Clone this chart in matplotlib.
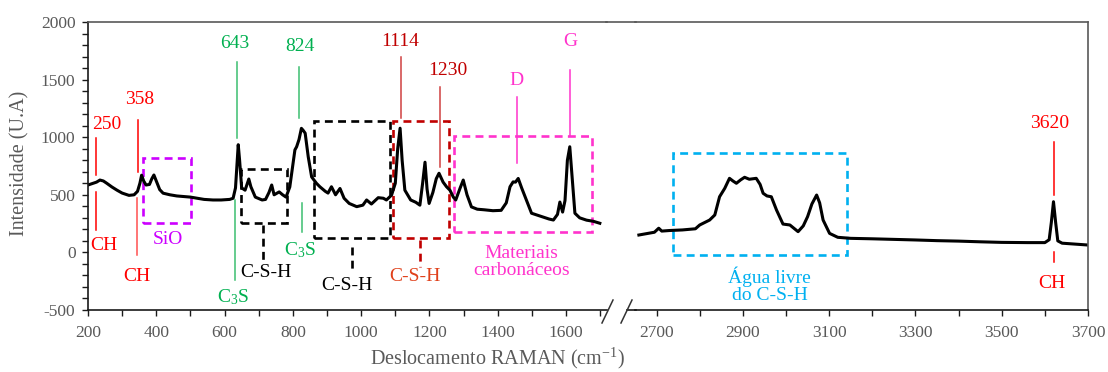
import matplotlib
matplotlib.use("Agg")
import matplotlib.pyplot as plt
from matplotlib.patches import Rectangle
from matplotlib.lines import Line2D

plt.rcParams['font.family'] = ['Liberation Serif', 'DejaVu Serif']
plt.rcParams['axes.unicode_minus'] = False
plt.rcParams['mathtext.fontset'] = 'custom'
plt.rcParams['mathtext.rm'] = 'Liberation Serif'
plt.rcParams['mathtext.it'] = 'Liberation Serif'
plt.rcParams['mathtext.default'] = 'rm'

# ---------------- data ----------------
left_x = [200, 210, 225, 235, 245, 255, 270, 285, 300, 320, 335, 345, 352, 357, 363, 370, 380, 387, 393, 400,
          410, 420, 440, 460, 480, 500, 520, 540, 566, 590, 615, 625, 632, 637, 640, 644, 650, 660, 667, 671,
          677, 690, 710, 720, 730, 738, 745, 760, 770, 780, 791, 800, 806, 811, 818, 825, 830, 836, 845, 855,
          869, 879, 895, 903, 913, 925, 938, 950, 965, 987, 1005, 1016, 1030, 1050, 1065, 1074, 1089, 1100, 1107, 1114,
          1120, 1128, 1145, 1160, 1172, 1180, 1187, 1193, 1199, 1210, 1220, 1228, 1240, 1250, 1260, 1270, 1277, 1290, 1299, 1310,
          1323, 1340, 1360, 1386, 1410, 1425, 1436, 1445, 1452, 1460, 1470, 1484, 1499, 1514, 1530, 1550, 1563, 1575, 1582, 1590,
          1597, 1604, 1611, 1618, 1626, 1640, 1660, 1680, 1699]
left_y = [585, 595, 610, 628, 620, 600, 568, 540, 515, 495, 500, 530, 600, 670, 620, 585, 590, 640, 672, 620,
          545, 514, 500, 490, 485, 480, 470, 460, 455, 455, 460, 470, 560, 800, 935, 800, 560, 540, 600, 637,
          570, 480, 455, 460, 520, 585, 500, 525, 500, 480, 568, 760, 890, 917, 980, 1077, 1060, 1035, 830, 655,
          600, 570, 530, 515, 570, 500, 555, 470, 425, 397, 410, 455, 420, 475, 470, 455, 497, 600, 900, 1078,
          800, 540, 455, 435, 410, 600, 783, 550, 425, 520, 640, 687, 610, 570, 540, 480, 455, 560, 628, 500,
          395, 375, 370, 362, 365, 430, 570, 612, 610, 642, 560, 455, 340, 325, 310, 290, 281, 330, 437, 350,
          450, 800, 917, 650, 340, 300, 280, 270, 253]

right_x = [2659, 2680, 2695, 2705, 2712, 2730, 2760, 2790, 2800, 2823, 2835, 2846, 2858, 2869, 2877, 2885, 2895, 2904, 2915, 2931,
           2940, 2947, 2956, 2966, 2978, 2993, 3009, 3028, 3040, 3050, 3060, 3071, 3078, 3086, 3101, 3120, 3150, 3200, 3250, 3300,
           3350, 3400, 3450, 3500, 3560, 3600, 3610, 3615, 3620, 3625, 3630, 3640, 3670, 3700]
right_y = [151, 165, 175, 210, 185, 190, 195, 205, 238, 281, 325, 483, 556, 643, 620, 600, 630, 652, 635, 643,
           590, 513, 490, 483, 368, 246, 238, 180, 230, 310, 420, 498, 430, 281, 165, 131, 122, 118, 113, 108,
           102, 98, 92, 87, 85, 85, 110, 260, 440, 260, 100, 80, 72, 64]

left_ticks = list(range(200, 1701, 100))
left_labels = [str(t) if t % 200 == 0 else '' for t in left_ticks]
right_ticks = list(range(2700, 3701, 100))
right_labels = [str(t) if (t - 2700) % 200 == 0 else '' for t in right_ticks]
y_ticks = [-500, 0, 500, 1000, 1500, 2000]

# ---------------- layout ----------------
W, H = 1108, 372
def fx(px):
    return px / W
def fy(py):
    return 1 - py / H

fig = plt.figure(figsize=(W / 100, H / 100), dpi=100)
y0, y1 = 22, 310
ax1 = fig.add_axes([fx(88), fy(y1), fx(607) - fx(88), fy(y0) - fy(y1)])
ax2 = fig.add_axes([fx(635), fy(y1), fx(1088) - fx(635), fy(y0) - fy(y1)])

grey = '#595959'
dark = '#1a1a1a'
for ax in (ax1, ax2):
    ax.set_ylim(-500, 2000)
    for name, s in ax.spines.items():
        s.set_color(dark if name in ('left', 'bottom') else grey)
        s.set_linewidth(1.2)
    ax.tick_params(axis='both', direction='out', length=4, width=1, color=dark,
                   labelcolor=grey, labelsize=12.5)
    ax.tick_params(axis='y', which='minor', direction='out', length=4, width=1, color=dark)

ax1.set_xlim(200, 1720)
ax2.set_xlim(2650, 3700)
ax1.spines['right'].set_visible(False)
ax2.spines['left'].set_visible(False)
ax2.tick_params(axis='y', which='both', left=False, labelleft=False)
ax1.set_xticks(left_ticks)
ax1.set_xticklabels(left_labels)
ax2.set_xticks(right_ticks)
ax2.set_xticklabels(right_labels)
ax1.set_yticks(y_ticks)
ax1.set_yticks(list(range(-500, 2001, 100)), minor=True)
ax1.tick_params(axis='x', pad=7)
ax2.tick_params(axis='x', pad=7)
ax1.tick_params(axis='y', pad=5)

ax1.plot(left_x, left_y, color='black', lw=2.2, solid_joinstyle='round')
ax2.plot(right_x, right_y, color='black', lw=2.2, solid_joinstyle='round')

# connecting top spine and bottom break
fig.add_artist(Line2D([fx(606), fx(636)], [fy(y0), fy(y0)], color=grey, lw=1.2))
fig.add_artist(Line2D([fx(627), fx(636)], [fy(y1), fy(y1)], color=dark, lw=1.2))
fig.add_artist(Line2D([fx(602), fx(613)], [fy(323), fy(300)], color='#333333', lw=1.1))
fig.add_artist(Line2D([fx(621), fx(632)], [fy(323), fy(300)], color='#333333', lw=1.1))

FS = 14
dash = (0, (3, 2))

def vline(ax, x, ya, yb, color, lw=1.1):
    ax.plot([x, x], [ya, yb], color=color, lw=lw)

def box(ax, xa, xb, ya, yb, color):
    ax.add_patch(Rectangle((xa, ya), xb - xa, yb - ya, fill=False, edgecolor=color,
                           lw=1.9, linestyle=dash))

def txt(ax, x, y, s, color, fs=FS):
    ax.text(x, y, s, color=color, fontsize=fs, ha='center', va='center', linespacing=1.0)

red = '#FF0000'
green = '#00B050'
violet = '#CC00FF'
dred = '#C00000'
pink = '#FF33CC'
cyan = '#00B0F0'
c3s = 'C$_{3}$S'

# 250 / CH
txt(ax1, 256, 1106, '250', red)
vline(ax1, 222, 992, 671, red)
vline(ax1, 222, 525, 193, red)
txt(ax1, 247, 63, 'CH', red)
# 358 / CH
txt(ax1, 352, 1323, '358', red)
vline(ax1, 347, 1149, 697, red)
vline(ax1, 343, 470, -22, '#FF5050')
txt(ax1, 342, -213, 'CH', red)
# SiO
box(ax1, 360, 503, 253, 817, violet)
txt(ax1, 434, 116, 'SiO', violet)
# 643 / C3S
txt(ax1, 630, 1817, '643', green)
vline(ax1, 635, 1653, 992, '#3CBF70')
vline(ax1, 630, 453, -240, '#3CBF70')
txt(ax1, 626, -390, c3s, green)
# 824 / C3S
txt(ax1, 821, 1785, '824', green)
vline(ax1, 819, 1610, 1167, '#3CBF70')
vline(ax1, 826, 427, 177, '#3CBF70')
txt(ax1, 821, 20, c3s, green)
# C-S-H black boxes
box(ax1, 647, 784, 253, 721, 'black')
ax1.plot([713, 713], [238, -66], color='black', lw=1.9, linestyle=dash)
txt(ax1, 722, -176, 'C-S-H', 'black')
box(ax1, 862, 1084, 122, 1143, 'black')
ax1.plot([974, 974], [50, -153], color='black', lw=1.9, linestyle=dash)
txt(ax1, 957, -283, 'C-S-H', 'black')
# 1114, 1230, red box
txt(ax1, 1114, 1829, '1114', dred)
vline(ax1, 1116, 1699, 1164, '#D04040')
txt(ax1, 1255, 1583, '1230', dred)
vline(ax1, 1231, 1433, 744, '#D04040')
box(ax1, 1094, 1257, 122, 1143, dred)
ax1.plot([1172, 1172], [108, -124], color=dred, lw=1.9, linestyle=dash)
txt(ax1, 1157, -205, 'C-S-H', '#E0401A')
# carbonaceous
box(ax1, 1272, 1675, 181, 1010, pink)
txt(ax1, 1455, 1496, 'D', pink)
vline(ax1, 1455, 1351, 773, pink)
txt(ax1, 1613, 1829, 'G', pink)
vline(ax1, 1613, 1583, 1010, pink)
txt(ax1, 1470, -80, 'Materiais\ncarbonáceos', pink)
# water
box(ax2, 2738, 3142, -23, 860, cyan)
txt(ax2, 2962, -283, 'Água livre\ndo C-S-H', cyan)
# 3620 / CH
txt(ax2, 3612, 1121, '3620', red)
vline(ax2, 3621, 961, 498, red)
vline(ax2, 3621, 6, -81, red)
txt(ax2, 3616, -268, 'CH', red)

fig.text(fx(20), fy(163), 'Intensidade (U.A)', rotation=90, ha='center', va='center',
         color=grey, fontsize=14.5)
fig.text(fx(497), fy(358), 'Deslocamento RAMAN (cm$^{-1}$)', ha='center', va='center',
         color=grey, fontsize=14.5)

fig.savefig('out.png', dpi=100)
